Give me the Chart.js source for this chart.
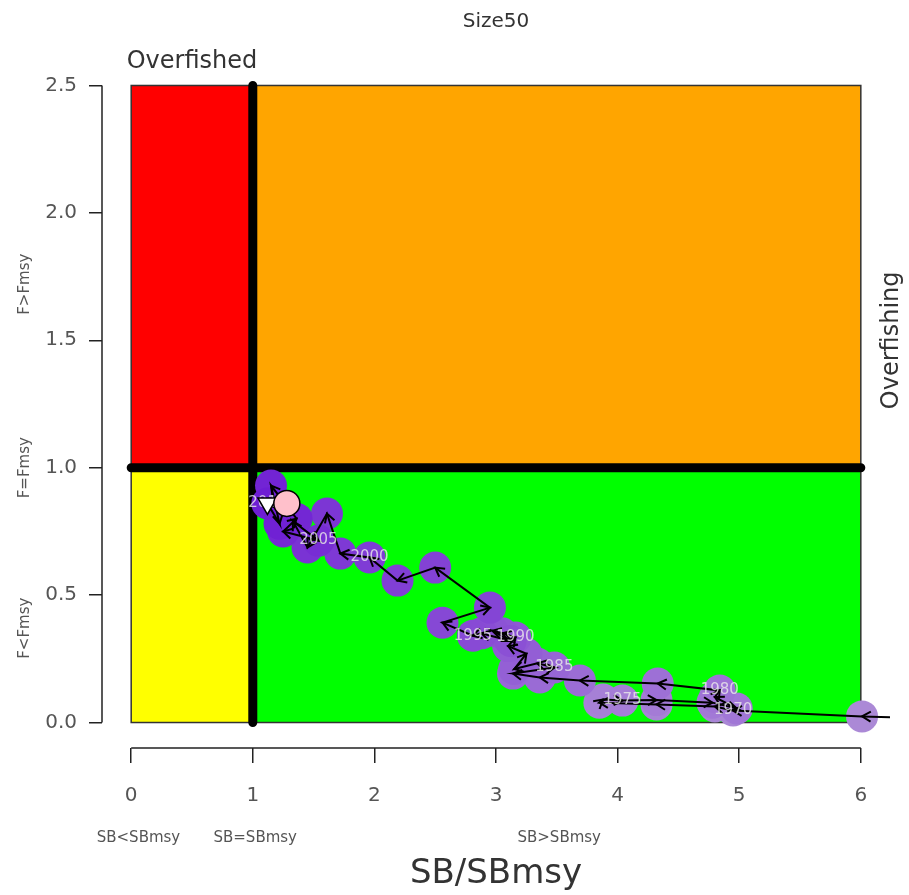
<!DOCTYPE html>
<html>
<head>
<meta charset="utf-8">
<script src="https://cdn.jsdelivr.net/npm/chart.js@4.4.1/dist/chart.umd.min.js"></script>
<style>
  html, body { margin: 0; padding: 0; background: #ffffff; }
  #wrap { width: 909px; height: 895px; }
</style>
</head>
<body>
<div id="wrap"><canvas id="kobe" width="909" height="895"></canvas></div>
<script>
// Stock trajectory: spawning biomass and fishing mortality relative to MSY levels
const years = [1968, 1969, 1970, 1971, 1972, 1973, 1974, 1975, 1976, 1977,
               1978, 1979, 1980, 1981, 1982, 1983, 1984, 1985, 1986, 1987,
               1988, 1989, 1990, 1991, 1992, 1993, 1994, 1995, 1996, 1997,
               1998, 1999, 2000, 2001, 2002, 2003, 2004, 2005, 2006, 2007,
               2008, 2009, 2010];
const sbRatio = [6.60, 6.01, 4.95, 4.80, 4.32, 3.85, 3.88, 4.04, 4.32, 4.78,
                 4.98, 4.80, 4.84, 4.33, 3.69, 3.36, 3.14, 3.48, 3.34, 3.15,
                 3.25, 3.10, 3.16, 3.05, 2.97, 3.12, 2.88, 2.81, 2.56, 2.95,
                 2.50, 2.19, 1.96, 1.72, 1.61, 1.45, 1.33, 1.54, 1.25, 1.36,
                 1.15, 1.22, 1.12];
const fRatio = [0.015, 0.024, 0.047, 0.063, 0.071, 0.078, 0.090, 0.086, 0.088, 0.078,
                0.055, 0.100, 0.126, 0.153, 0.165, 0.177, 0.192, 0.216, 0.232, 0.210,
                0.270, 0.300, 0.334, 0.350, 0.360, 0.320, 0.350, 0.341, 0.392, 0.451,
                0.608, 0.557, 0.648, 0.663, 0.820, 0.687, 0.790, 0.714, 0.750, 0.800,
                0.930, 0.780, 0.860];

// Status markers: final year of the run and current estimate
const finalMarker = { sb: 1.12, f: 0.86 };
const currentMarker = { sb: 1.28, f: 0.86 };

// Axis ticks and zone captions
const xTicks = [0, 1, 2, 3, 4, 5, 6];
const yTicks = [0, 0.5, 1.0, 1.5, 2.0, 2.5];
const xZoneLabels = ['SB<SBmsy', 'SB=SBmsy', 'SB>SBmsy'];
const xZoneLabelAt = [0.06, 1.02, 3.52];
const yZoneLabels = ['F<Fmsy', 'F=Fmsy', 'F>Fmsy'];
const yZoneLabelAt = [0.37, 1.0, 1.72];

const FONT = "'DejaVu Sans', sans-serif";

// Point colour fades from light lavender (early years) to deep violet (recent years)
function shade(i, n) {
  const t = i / (n - 1);
  const a = [172, 138, 214], b = [110, 30, 212];
  const c = a.map((v, k) => Math.round(v + (b[k] - v) * Math.pow(t, 1.2)));
  return `rgb(${c[0]},${c[1]},${c[2]})`;
}
const trajectory = years.map((y, i) => ({ x: sbRatio[i], y: fRatio[i] }));
const pointColours = years.map((y, i) => shade(i, years.length));

// Quadrants, reference lines and R-style axes
const kobeBackground = {
  id: 'kobeBackground',
  beforeDatasetsDraw(chart) {
    const { ctx, scales: { x, y } } = chart;
    const px = v => x.getPixelForValue(v), py = v => y.getPixelForValue(v);
    const zones = [
      [0, 1, 0, 1, '#FFFF00'],
      [1, 6, 0, 1, '#00FF00'],
      [0, 1, 1, 2.5, '#FF0000'],
      [1, 6, 1, 2.5, '#FFA500']
    ];
    ctx.save();
    zones.forEach(([x0, x1, y0, y1, col]) => {
      ctx.fillStyle = col;
      ctx.fillRect(px(x0), py(y1), px(x1) - px(x0), py(y0) - py(y1));
      ctx.strokeStyle = '#333';
      ctx.lineWidth = 1.5;
      ctx.strokeRect(px(x0), py(y1), px(x1) - px(x0), py(y0) - py(y1));
    });
    ctx.strokeStyle = '#000';
    ctx.lineWidth = 9;
    ctx.lineCap = 'round';
    ctx.beginPath();
    ctx.moveTo(px(1), py(0));
    ctx.lineTo(px(1), py(2.5));
    ctx.moveTo(px(0), py(1));
    ctx.lineTo(px(6), py(1));
    ctx.stroke();
    ctx.restore();
  },
  afterDraw(chart) {
    const { ctx, chartArea, scales: { x, y } } = chart;
    const px = v => x.getPixelForValue(v), py = v => y.getPixelForValue(v);
    ctx.save();
    // axis lines span first to last tick only
    ctx.strokeStyle = '#222';
    ctx.lineWidth = 1.5;
    ctx.beginPath();
    ctx.moveTo(px(xTicks[0]), chartArea.bottom);
    ctx.lineTo(px(xTicks[xTicks.length - 1]), chartArea.bottom);
    ctx.moveTo(chartArea.left, py(yTicks[0]));
    ctx.lineTo(chartArea.left, py(yTicks[yTicks.length - 1]));
    ctx.stroke();

    ctx.fillStyle = '#333';
    ctx.textAlign = 'center';
    ctx.textBaseline = 'middle';
    ctx.font = `20px ${FONT}`;
    ctx.fillText('Size50', (chartArea.left + chartArea.right) / 2, 22);

    ctx.font = `24px ${FONT}`;
    ctx.fillText('Overfished', px(0.5), 62);

    ctx.save();
    ctx.translate(892, py(1.5));
    ctx.rotate(-Math.PI / 2);
    ctx.fillText('Overfishing', 0, 0);
    ctx.restore();

    ctx.fillStyle = '#555';
    ctx.font = `15px ${FONT}`;
    xZoneLabels.forEach((t, i) => ctx.fillText(t, px(xZoneLabelAt[i]), 838));
    yZoneLabels.forEach((t, i) => {
      ctx.save();
      ctx.translate(25, py(yZoneLabelAt[i]));
      ctx.rotate(-Math.PI / 2);
      ctx.fillText(t, 0, 0);
      ctx.restore();
    });

    ctx.fillStyle = '#333';
    ctx.font = `34px ${FONT}`;
    ctx.fillText('SB/SBmsy', (chartArea.left + chartArea.right) / 2, 874);
    ctx.restore();
  }
};

// Arrowheads on each step of the trajectory, then year captions every five years
const trajectoryArrows = {
  id: 'trajectoryArrows',
  afterDatasetDraw(chart, args) {
    if (args.index !== 1) return;
    const { ctx, chartArea, scales: { x, y } } = chart;
    ctx.save();
    ctx.beginPath();
    ctx.rect(chartArea.left, chartArea.top, chartArea.right - chartArea.left, chartArea.bottom - chartArea.top);
    ctx.clip();
    ctx.strokeStyle = '#000';
    ctx.lineWidth = 2;
    for (let i = 1; i < trajectory.length; i++) {
      const x0 = x.getPixelForValue(trajectory[i - 1].x), y0 = y.getPixelForValue(trajectory[i - 1].y);
      const x1 = x.getPixelForValue(trajectory[i].x), y1 = y.getPixelForValue(trajectory[i].y);
      const ang = Math.atan2(y1 - y0, x1 - x0);
      const len = 10, spread = Math.PI / 6;
      ctx.beginPath();
      ctx.moveTo(x1 - len * Math.cos(ang - spread), y1 - len * Math.sin(ang - spread));
      ctx.lineTo(x1, y1);
      ctx.lineTo(x1 - len * Math.cos(ang + spread), y1 - len * Math.sin(ang + spread));
      ctx.stroke();
    }
    ctx.font = `15px ${FONT}`;
    ctx.fillStyle = 'rgba(235,235,235,0.8)';
    ctx.textAlign = 'center';
    ctx.textBaseline = 'middle';
    years.forEach((yr, i) => {
      if (yr % 5 === 0) ctx.fillText(String(yr), x.getPixelForValue(sbRatio[i]), y.getPixelForValue(fRatio[i]));
    });
    ctx.restore();
  }
};

new Chart(document.getElementById('kobe'), {
  type: 'scatter',
  data: {
    datasets: [
      {
        label: 'Years',
        data: trajectory,
        pointRadius: 16,
        pointHoverRadius: 16,
        pointBackgroundColor: pointColours,
        pointBorderWidth: 0,
        showLine: false,
        order: 3
      },
      {
        label: 'Path',
        data: trajectory,
        showLine: true,
        borderColor: '#000',
        borderWidth: 2,
        pointRadius: 0,
        tension: 0,
        fill: false,
        order: 2
      },
      {
        label: 'Final year',
        data: [{ x: finalMarker.sb, y: finalMarker.f }],
        pointStyle: 'triangle',
        rotation: 180,
        pointRadius: 11,
        pointBackgroundColor: '#ffffff',
        pointBorderColor: '#000',
        pointBorderWidth: 1.5,
        order: 1
      },
      {
        label: 'Current',
        data: [{ x: currentMarker.sb, y: currentMarker.f }],
        pointRadius: 13,
        pointBackgroundColor: '#FFC0CB',
        pointBorderColor: '#000',
        pointBorderWidth: 1.5,
        order: 0
      }
    ]
  },
  options: {
    responsive: false,
    animation: false,
    devicePixelRatio: 1,
    layout: { padding: { left: 0, right: 19, top: 60, bottom: 0 } },
    plugins: { legend: { display: false }, tooltip: { enabled: false }, title: { display: false } },
    scales: {
      x: {
        type: 'linear',
        min: -0.24,
        max: 6.24,
        afterBuildTicks: s => { s.ticks = xTicks.map(v => ({ value: v })); },
        afterFit: s => { s.height = 147; },
        ticks: { font: { family: FONT, size: 20 }, color: '#555', padding: 21, callback: v => String(v), maxRotation: 0, autoSkip: false },
        grid: { drawOnChartArea: false, drawTicks: true, tickLength: 15, color: '#222', lineWidth: 1.5 },
        border: { display: false }
      },
      y: {
        type: 'linear',
        min: -0.1,
        max: 2.6,
        afterBuildTicks: s => { s.ticks = yTicks.map(v => ({ value: v })); },
        afterFit: s => { s.width = 102; },
        ticks: { font: { family: FONT, size: 20 }, color: '#555', padding: 12, callback: v => Number(v).toFixed(1), autoSkip: false },
        grid: { drawOnChartArea: false, drawTicks: true, tickLength: 13, color: '#222', lineWidth: 1.5 },
        border: { display: false }
      }
    }
  },
  plugins: [kobeBackground, trajectoryArrows]
});
</script>
</body>
</html>
